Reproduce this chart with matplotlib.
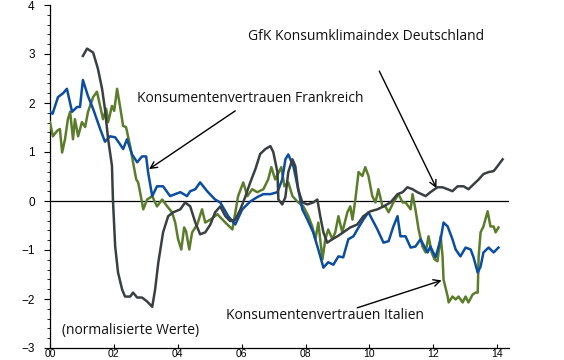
import numpy as np
import matplotlib
matplotlib.use('Agg')
import matplotlib.pyplot as plt
from matplotlib.ticker import MultipleLocator

# Konsumentenvertrauen Frankreich (Jahre ab 2000, normalisierte Werte)
fr_t = [0.00, 0.08, 0.25, 0.41, 0.53, 0.69, 0.85, 0.94, 1.03, 1.19, 1.35, 1.57, 1.72, 1.88,
        2.04, 2.19, 2.29, 2.41, 2.57, 2.73, 2.88, 3.01, 3.07, 3.20, 3.35, 3.54, 3.76, 3.92,
        4.08, 4.29, 4.39, 4.55, 4.70, 4.92, 5.17, 5.33, 5.58, 5.80, 6.02, 6.27, 6.49, 6.68,
        6.90, 7.12, 7.27, 7.37, 7.46, 7.62, 7.77, 7.90, 8.06, 8.24, 8.40, 8.56, 8.71, 8.87,
        9.03, 9.18, 9.34, 9.50, 9.66, 9.81, 9.97, 10.09, 10.25, 10.44, 10.60, 10.75, 10.88,
        10.97, 11.13, 11.29, 11.44, 11.60, 11.82, 11.91, 12.07, 12.23, 12.32, 12.45, 12.60,
        12.70, 12.85, 13.01, 13.17, 13.26, 13.39, 13.48, 13.57, 13.73, 13.89, 14.04]
fr_v = [1.82, 1.78, 2.12, 2.20, 2.29, 1.82, 1.92, 1.92, 2.47, 2.14, 1.88, 1.47, 1.21, 1.32,
        1.30, 1.16, 1.06, 1.26, 0.95, 0.79, 0.91, 0.91, 0.59, 0.10, 0.30, 0.30, 0.10, 0.14,
        0.18, 0.10, 0.20, 0.24, 0.38, 0.20, 0.03, -0.03, -0.31, -0.48, -0.17, -0.01, 0.08, 0.14,
        0.14, 0.18, 0.44, 0.85, 0.95, 0.71, 0.24, -0.17, -0.38, -0.64, -0.99, -1.36, -1.25, -1.30,
        -1.13, -1.15, -0.78, -0.72, -0.54, -0.38, -0.23, -0.38, -0.58, -0.85, -0.82, -0.52, -0.31,
        -0.72, -0.72, -0.95, -0.93, -0.78, -1.05, -0.93, -1.15, -0.78, -0.44, -0.52, -0.78,
        -0.99, -1.13, -0.95, -0.99, -1.15, -1.46, -1.34, -1.05, -0.95, -1.05, -0.95]

# GfK Konsumklimaindex Deutschland
de_t = [1.03, 1.16, 1.35, 1.50, 1.63, 1.72, 1.82, 1.94, 1.97, 2.04, 2.13, 2.26, 2.35, 2.51,
        2.60, 2.73, 2.88, 3.04, 3.20, 3.29, 3.39, 3.54, 3.70, 3.86, 4.08, 4.23, 4.39, 4.55,
        4.70, 4.86, 5.02, 5.17, 5.33, 5.49, 5.64, 5.80, 5.96, 6.11, 6.27, 6.43, 6.58, 6.74,
        6.90, 6.99, 7.12, 7.15, 7.27, 7.37, 7.46, 7.59, 7.68, 7.77, 7.90, 8.06, 8.24, 8.37,
        8.46, 8.56, 8.68, 8.84, 9.00, 9.18, 9.40, 9.62, 9.81, 10.03, 10.25, 10.44, 10.66,
        10.88, 11.04, 11.19, 11.35, 11.50, 11.76, 11.91, 12.13, 12.29, 12.45, 12.60, 12.76,
        12.95, 13.10, 13.26, 13.42, 13.57, 13.73, 13.89, 14.01, 14.17]
de_v = [2.96, 3.11, 3.03, 2.70, 2.29, 1.88, 1.26, 0.72, 0.03, -0.92, -1.46, -1.81, -1.95, -1.95,
        -1.87, -1.97, -1.97, -2.05, -2.16, -1.81, -1.26, -0.64, -0.31, -0.23, -0.17, -0.03, -0.11, -0.44,
        -0.68, -0.64, -0.48, -0.23, -0.11, -0.31, -0.41, -0.38, -0.17, 0.08, 0.38, 0.65, 0.96, 1.06,
        1.12, 1.00, 0.59, 0.03, -0.07, 0.08, 0.59, 0.85, 0.71, 0.24, -0.03, -0.07, -0.03, 0.03,
        -0.31, -0.64, -0.85, -0.78, -0.72, -0.64, -0.54, -0.48, -0.31, -0.21, -0.17, -0.11, -0.03,
        0.14, 0.18, 0.28, 0.24, 0.18, 0.10, 0.18, 0.28, 0.28, 0.24, 0.20, 0.30,
        0.30, 0.24, 0.34, 0.44, 0.55, 0.59, 0.61, 0.71, 0.85]

# Konsumentenvertrauen Italien
it_t = [0.00, 0.09, 0.22, 0.31, 0.38, 0.47, 0.56, 0.63, 0.72, 0.78, 0.88, 1.00, 1.10, 1.19,
        1.35, 1.47, 1.57, 1.66, 1.76, 1.82, 1.94, 2.01, 2.10, 2.19, 2.29, 2.38, 2.51, 2.60,
        2.70, 2.76, 2.82, 2.92, 3.04, 3.20, 3.35, 3.51, 3.67, 3.82, 3.92, 4.01, 4.11, 4.20,
        4.26, 4.36, 4.45, 4.61, 4.76, 4.86, 5.02, 5.24, 5.49, 5.71, 5.89, 6.05, 6.18, 6.33,
        6.49, 6.68, 6.83, 6.93, 7.05, 7.24, 7.34, 7.46, 7.59, 7.74, 7.93, 8.09, 8.21, 8.31,
        8.40, 8.53, 8.62, 8.71, 8.84, 8.93, 9.03, 9.15, 9.31, 9.40, 9.47, 9.56, 9.66, 9.78,
        9.87, 9.97, 10.09, 10.19, 10.28, 10.41, 10.50, 10.60, 10.75, 10.91, 11.04, 11.13,
        11.29, 11.35, 11.44, 11.54, 11.66, 11.76, 11.85, 11.95, 12.04, 12.13, 12.23, 12.29,
        12.32, 12.45, 12.48, 12.60, 12.70, 12.79, 12.92, 13.01, 13.10, 13.23, 13.32, 13.39,
        13.42, 13.48, 13.57, 13.70, 13.79, 13.89, 13.95, 14.04]
it_v = [1.61, 1.32, 1.43, 1.47, 0.99, 1.26, 1.67, 1.82, 1.26, 1.67, 1.32, 1.61, 1.51, 1.82,
        2.12, 2.23, 1.94, 1.67, 1.88, 1.61, 1.94, 1.84, 2.29, 1.94, 1.53, 1.51, 1.12, 0.79,
        0.44, 0.38, 0.18, -0.17, 0.03, 0.10, -0.11, 0.03, -0.11, -0.23, -0.44, -0.78, -0.99, -0.54,
        -0.62, -0.99, -0.64, -0.48, -0.17, -0.44, -0.38, -0.27, -0.44, -0.58, 0.10, 0.38, 0.10, 0.24,
        0.18, 0.24, 0.44, 0.69, 0.44, 0.69, 0.30, 0.38, 0.10, -0.01, -0.11, -0.31, -0.52, -0.78,
        -0.44, -1.19, -0.78, -0.58, -0.78, -0.64, -0.31, -0.64, -0.23, -0.11, -0.38, 0.03, 0.59, 0.51,
        0.69, 0.51, 0.10, -0.03, 0.24, -0.11, -0.11, -0.23, -0.03, 0.14, -0.03, -0.03,
        -0.17, 0.14, -0.17, -0.58, -0.93, -1.05, -0.72, -1.05, -1.19, -1.23, -0.72, -1.13,
        -1.60, -1.95, -2.07, -1.95, -2.01, -1.95, -2.07, -1.95, -2.07, -1.91, -1.87, -1.87,
        -1.13, -0.64, -0.52, -0.21, -0.52, -0.52, -0.64, -0.54]

year_ticks = [2000, 2002, 2004, 2006, 2008, 2010, 2012, 2014]
year_labels = ['00', '02', '04', '06', '08', '10', '12', '14']

plt.rcParams['font.family'] = ['Liberation Sans', 'DejaVu Sans']

fig = plt.figure(figsize=(5.64, 3.6), dpi=100)
ax = fig.add_axes([50 / 564, 12 / 360, 459 / 564, 343 / 360])

ax.plot(2000 + np.array(it_t), it_v, color='#5b7d2b', lw=1.8, zorder=3)
ax.plot(2000 + np.array(de_t), de_v, color='#3a4042', lw=1.8, zorder=4)
ax.plot(2000 + np.array(fr_t), fr_v, color='#0b4da1', lw=1.8, zorder=3)
ax.axhline(0, color='black', lw=0.9, zorder=2)

ax.set_xlim(2000, 2014.37)
ax.set_ylim(-3, 4)
for s in ['top', 'right']:
    ax.spines[s].set_visible(False)
ax.spines['left'].set_linewidth(0.9)
ax.spines['bottom'].set_linewidth(0.9)

ax.set_xticks(year_ticks)
ax.set_xticklabels(year_labels)
ax.tick_params(axis='x', direction='in', length=3, width=0.8, labelsize=7.5, pad=1)
ax.yaxis.set_major_locator(MultipleLocator(1))
ax.yaxis.set_minor_locator(MultipleLocator(0.2))
ax.tick_params(axis='y', which='major', direction='out', length=4, width=0.8, labelsize=8.5, pad=7)
ax.tick_params(axis='y', which='minor', direction='out', length=2, width=0.6)

txt = dict(fontsize=10, family=['Open Sans', 'DejaVu Sans'], va='center', ha='left', color='#111111')
arr = dict(arrowstyle='->', color='black', lw=1.0, shrinkA=0, shrinkB=0, mutation_scale=12)

ax.text(2002.73, 2.10, 'Konsumentenvertrauen Frankreich', **txt)
ax.annotate('', xy=(2003.10, 0.65), xytext=(2005.80, 1.84), arrowprops=arr)

ax.text(2006.21, 3.35, 'GfK Konsumklimaindex Deutschland', **txt)
ax.annotate('', xy=(2012.10, 0.26), xytext=(2010.31, 2.65), arrowprops=arr)

ax.text(2005.52, -2.34, 'Konsumentenvertrauen Italien', **txt)
ax.annotate('', xy=(2012.26, -1.62), xytext=(2009.62, -2.18), arrowprops=arr)

ax.text(2000.38, -2.65, '(normalisierte Werte)', **txt)

fig.savefig('out.png', dpi=100)
